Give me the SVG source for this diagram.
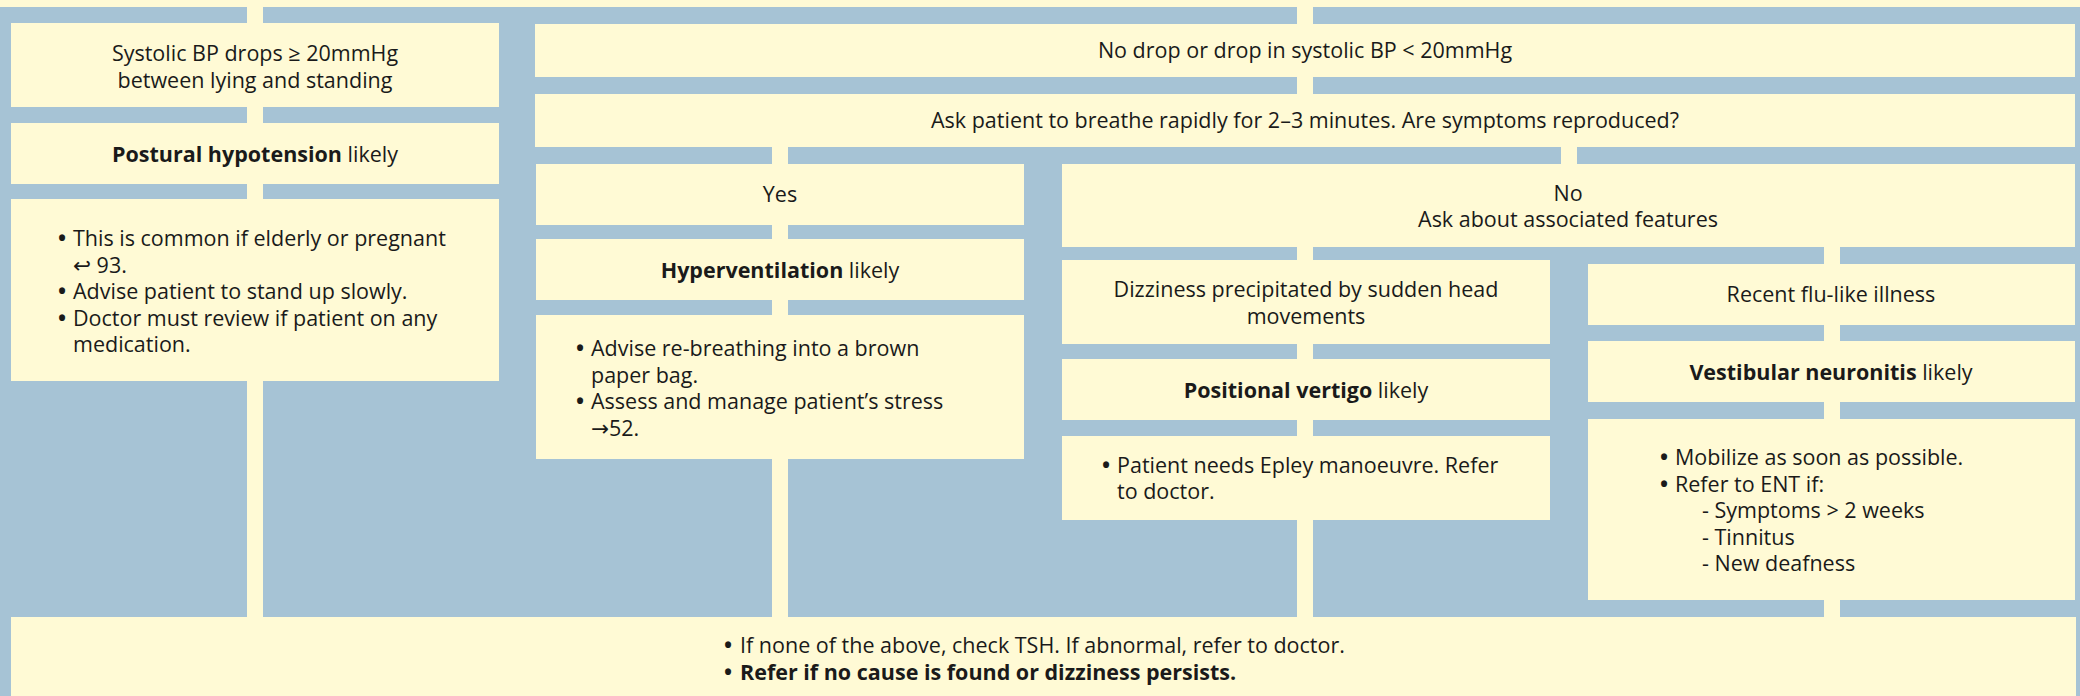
<svg xmlns="http://www.w3.org/2000/svg" width="2080" height="696" viewBox="0 0 2080 696">
  <style>
    .bg { fill: #a6c3d5; }
    .box { fill: #fffad5; }
    .link { fill: #fffad5; }
    text { font-family: "Open Sans", "Noto Sans", "DejaVu Sans", sans-serif; font-size: 21.5px; fill: #1a1a1a; }
    .c { text-anchor: middle; }
    .b { font-weight: bold; }
    .dot { font-weight: bold; }
    .sym { font-family: "DejaVu Sans", sans-serif; }
  </style>

  <rect class="bg" x="0" y="0" width="2080" height="696"/>

  <!-- connectors: pale strips joining the boxes -->
  <g id="connectors">
    <rect class="link" x="0" y="0" width="2080" height="7"/>
    <rect class="link" x="247" y="7" width="16" height="16"/>
    <rect class="link" x="247" y="107" width="16" height="16"/>
    <rect class="link" x="247" y="184" width="16" height="15"/>
    <rect class="link" x="247" y="381" width="16" height="236"/>
    <rect class="link" x="1297" y="7" width="16" height="17"/>
    <rect class="link" x="1297" y="77" width="16" height="17"/>
    <rect class="link" x="772" y="147" width="16" height="17"/>
    <rect class="link" x="1561" y="147" width="16" height="17"/>
    <rect class="link" x="772" y="225" width="16" height="14"/>
    <rect class="link" x="772" y="300" width="16" height="15"/>
    <rect class="link" x="772" y="459" width="16" height="158"/>
    <rect class="link" x="1297" y="247" width="16" height="13"/>
    <rect class="link" x="1297" y="344" width="16" height="15"/>
    <rect class="link" x="1297" y="420" width="16" height="16"/>
    <rect class="link" x="1297" y="520" width="16" height="97"/>
    <rect class="link" x="1824" y="247" width="16" height="17"/>
    <rect class="link" x="1824" y="325" width="16" height="16"/>
    <rect class="link" x="1824" y="402" width="16" height="17"/>
    <rect class="link" x="1824" y="600" width="16" height="17"/>
  </g>

  <!-- left branch -->
  <g id="bp-drop">
    <rect class="box" x="11" y="23" width="488" height="84"/>
    <text class="c" x="255" y="61">Systolic BP drops ≥ 20mmHg</text>
    <text class="c" x="255" y="88">between lying and standing</text>
  </g>
  <g id="postural">
    <rect class="box" x="11" y="123" width="488" height="61"/>
    <text class="c" x="255" y="162"><tspan class="b">Postural hypotension</tspan> likely</text>
  </g>
  <g id="postural-advice">
    <rect class="box" x="11" y="199" width="488" height="182"/>
    <text x="58" y="246"><tspan class="dot">•</tspan><tspan x="73">This is common if elderly or pregnant</tspan></text>
    <text x="73" y="272.5"><tspan class="sym">↩</tspan> 93.</text>
    <text x="58" y="299"><tspan class="dot">•</tspan><tspan x="73">Advise patient to stand up slowly.</tspan></text>
    <text x="58" y="325.5"><tspan class="dot">•</tspan><tspan x="73">Doctor must review if patient on any</tspan></text>
    <text x="73" y="352">medication.</text>
  </g>

  <!-- right branch -->
  <g id="no-drop">
    <rect class="box" x="535" y="24" width="1540" height="53"/>
    <text class="c" x="1305" y="58">No drop or drop in systolic BP &lt; 20mmHg</text>
  </g>
  <g id="breathe">
    <rect class="box" x="535" y="94" width="1540" height="53"/>
    <text class="c" x="1305" y="128">Ask patient to breathe rapidly for 2–3 minutes. Are symptoms reproduced?</text>
  </g>

  <g id="yes">
    <rect class="box" x="536" y="164" width="488" height="61"/>
    <text class="c" x="780" y="202">Yes</text>
  </g>
  <g id="hyperventilation">
    <rect class="box" x="536" y="239" width="488" height="61"/>
    <text class="c" x="780" y="278"><tspan class="b">Hyperventilation</tspan> likely</text>
  </g>
  <g id="hyperventilation-advice">
    <rect class="box" x="536" y="315" width="488" height="144"/>
    <text x="576" y="356"><tspan class="dot">•</tspan><tspan x="591">Advise re-breathing into a brown</tspan></text>
    <text x="591" y="382.5">paper bag.</text>
    <text x="576" y="409"><tspan class="dot">•</tspan><tspan x="591">Assess and manage patient’s stress</tspan></text>
    <text x="591" y="435.5"><tspan class="sym">→</tspan>52.</text>
  </g>

  <g id="no">
    <rect class="box" x="1062" y="164" width="1013" height="83"/>
    <text class="c" x="1568" y="201">No</text>
    <text class="c" x="1568" y="227">Ask about associated features</text>
  </g>

  <g id="head-movements">
    <rect class="box" x="1062" y="260" width="488" height="84"/>
    <text class="c" x="1306" y="297">Dizziness precipitated by sudden head</text>
    <text class="c" x="1306" y="324">movements</text>
  </g>
  <g id="positional">
    <rect class="box" x="1062" y="359" width="488" height="61"/>
    <text class="c" x="1306" y="398"><tspan class="b">Positional vertigo</tspan> likely</text>
  </g>
  <g id="positional-advice">
    <rect class="box" x="1062" y="436" width="488" height="84"/>
    <text x="1102" y="472.5"><tspan class="dot">•</tspan><tspan x="1117">Patient needs Epley manoeuvre. Refer</tspan></text>
    <text x="1117" y="499">to doctor.</text>
  </g>

  <g id="flu">
    <rect class="box" x="1588" y="264" width="487" height="61"/>
    <text class="c" x="1831" y="302">Recent flu-like illness</text>
  </g>
  <g id="vestibular">
    <rect class="box" x="1588" y="341" width="487" height="61"/>
    <text class="c" x="1831" y="380"><tspan class="b">Vestibular neuronitis</tspan> likely</text>
  </g>
  <g id="vestibular-advice">
    <rect class="box" x="1588" y="419" width="487" height="181"/>
    <text x="1660" y="465"><tspan class="dot">•</tspan><tspan x="1675">Mobilize as soon as possible.</tspan></text>
    <text x="1660" y="491.5"><tspan class="dot">•</tspan><tspan x="1675">Refer to ENT if:</tspan></text>
    <text x="1702" y="518">- Symptoms &gt; 2 weeks</text>
    <text x="1702" y="544.5">- Tinnitus</text>
    <text x="1702" y="571">- New deafness</text>
  </g>

  <!-- common footer -->
  <g id="footer">
    <rect class="box" x="11" y="617" width="2065" height="79"/>
    <text x="724" y="653"><tspan class="dot">•</tspan><tspan x="740">If none of the above, check TSH. If abnormal, refer to doctor.</tspan></text>
    <text class="b" x="724" y="680"><tspan class="dot">•</tspan><tspan x="740">Refer if no cause is found or dizziness persists.</tspan></text>
  </g>
</svg>
